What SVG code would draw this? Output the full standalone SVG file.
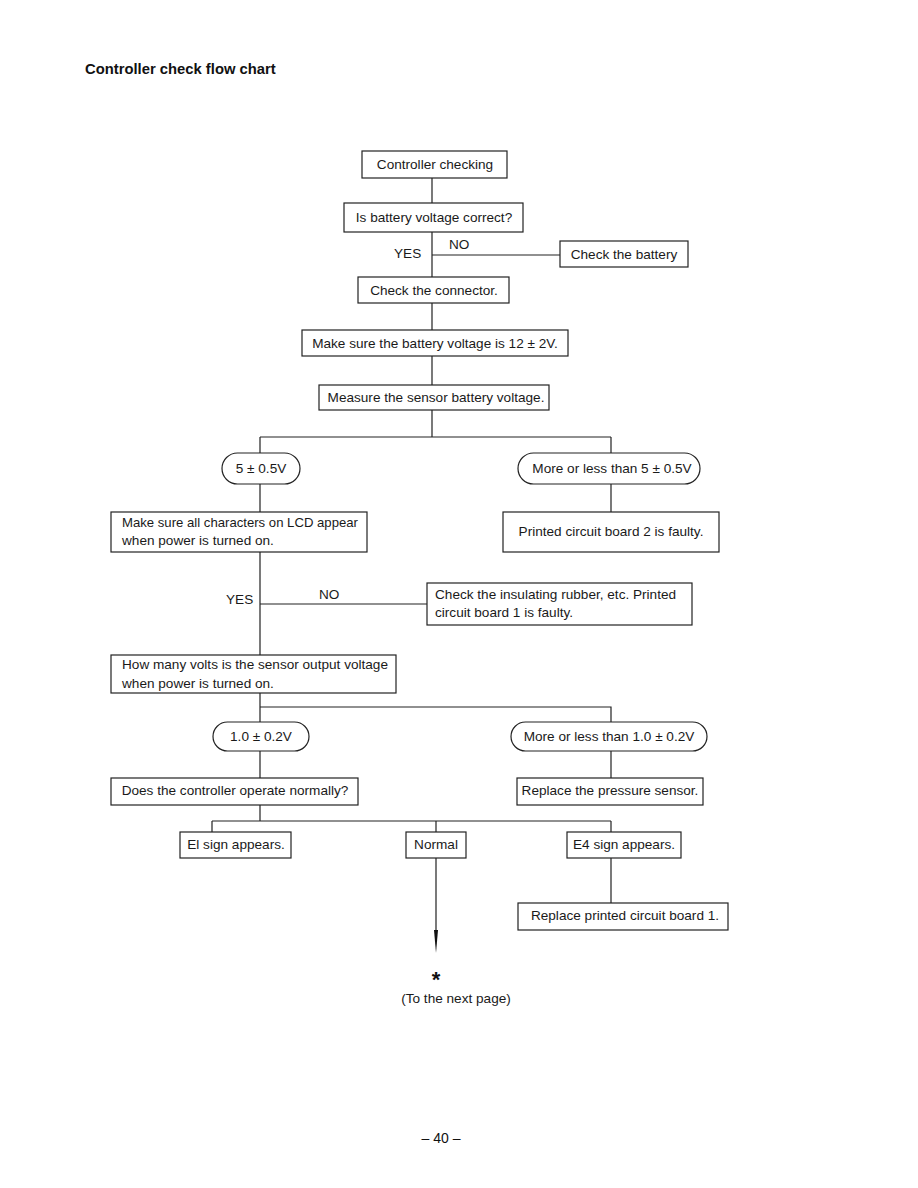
<svg xmlns="http://www.w3.org/2000/svg" width="918" height="1188" viewBox="0 0 918 1188">
<style>
.b{fill:#fff;stroke:#222;stroke-width:1.2}
.t{font-family:"Liberation Sans",Arial,sans-serif;font-size:13.6px;fill:#1a1a1a}
.m{text-anchor:middle}
.c{stroke:#222;stroke-width:1.2;fill:none}
</style>
<rect width="918" height="1188" fill="#fff"/>
<text x="85" y="74" font-family="Liberation Sans,Arial,sans-serif" font-size="14.8" font-weight="bold" fill="#111">Controller check flow chart</text>
<g id="connectors">
<path class="c" d="M432 178V203M432 232V277M432 255H560M432 303V330M432 356V385M432 410V437M260 437H611M260 437V453M611 437V453M260 484V512M611 484V512M260 552V655M260 604H427M260 693V722M260 707H611V722M260 751V778M611 751V778M260 805V821M212 821H611M212 821V832M436 821V832M611 821V832M611 858V903M436 858V932"/>
<polygon points="434,930 438,930 436,953" fill="#111"/>
</g>
<g id="n1"><rect class="b" x="362" y="151" width="145" height="27"/><text class="t m" x="435" y="169">Controller checking</text></g>
<g id="n2"><rect class="b" x="344" y="203" width="179" height="29"/><text class="t m" x="434" y="222">Is battery voltage correct?</text></g>
<g id="lbl1"><text class="t" x="394" y="258">YES</text><text class="t" x="449" y="249">NO</text></g>
<g id="n3"><rect class="b" x="560" y="241" width="128" height="26"/><text class="t m" x="624" y="259">Check the battery</text></g>
<g id="n4"><rect class="b" x="358" y="277" width="151" height="26"/><text class="t m" x="434" y="295">Check the connector.</text></g>
<g id="n5"><rect class="b" x="302" y="330" width="266" height="26"/><text class="t m" x="435" y="348">Make sure the battery voltage is 12 ± 2V.</text></g>
<g id="n6"><rect class="b" x="319" y="385" width="230" height="25"/><text class="t m" x="436" y="402">Measure the sensor battery voltage.</text></g>
<g id="n7"><rect class="b" x="222" y="453" width="78" height="31" rx="15.5"/><text class="t m" x="261" y="473">5 ± 0.5V</text></g>
<g id="n8"><rect class="b" x="518" y="453" width="182" height="31" rx="15.5"/><text class="t m" x="612" y="473">More or less than 5 ± 0.5V</text></g>
<g id="n9"><rect class="b" x="111" y="512" width="256" height="40"/><text class="t" x="122" y="527" textLength="236" lengthAdjust="spacingAndGlyphs">Make sure all characters on LCD appear</text><text class="t" x="122" y="545">when power is turned on.</text></g>
<g id="n10"><rect class="b" x="503" y="512" width="216" height="40"/><text class="t m" x="611" y="536">Printed circuit board 2 is faulty.</text></g>
<g id="lbl2"><text class="t" x="226" y="604">YES</text><text class="t" x="319" y="599">NO</text></g>
<g id="n11"><rect class="b" x="427" y="583" width="265" height="42"/><text class="t" x="435" y="599">Check the insulating rubber, etc. Printed</text><text class="t" x="435" y="617">circuit board 1 is faulty.</text></g>
<g id="n12"><rect class="b" x="111" y="655" width="285" height="38"/><text class="t" x="122" y="669">How many volts is the sensor output voltage</text><text class="t" x="122" y="688">when power is turned on.</text></g>
<g id="n13"><rect class="b" x="213" y="722" width="96" height="29" rx="14.5"/><text class="t m" x="261" y="741">1.0 ± 0.2V</text></g>
<g id="n14"><rect class="b" x="511" y="722" width="196" height="29" rx="14.5"/><text class="t m" x="609" y="741">More or less than 1.0 ± 0.2V</text></g>
<g id="n15"><rect class="b" x="111" y="778" width="247" height="27"/><text class="t m" x="235" y="795">Does the controller operate normally?</text></g>
<g id="n16"><rect class="b" x="517" y="778" width="186" height="27"/><text class="t m" x="610" y="795">Replace the pressure sensor.</text></g>
<g id="n17"><rect class="b" x="180" y="832" width="111" height="26"/><text class="t m" x="236" y="849">El sign appears.</text></g>
<g id="n18"><rect class="b" x="406" y="832" width="60" height="26"/><text class="t m" x="436" y="849">Normal</text></g>
<g id="n19"><rect class="b" x="567" y="832" width="114" height="26"/><text class="t m" x="624" y="849">E4 sign appears.</text></g>
<g id="n20"><rect class="b" x="518" y="903" width="210" height="27"/><text class="t m" x="625" y="920">Replace printed circuit board 1.</text></g>
<g id="foot"><text x="436" y="987" font-family="Liberation Sans,Arial,sans-serif" font-size="22" font-weight="bold" text-anchor="middle" fill="#111">*</text><text class="t m" x="456" y="1003">(To the next page)</text><text x="441" y="1143" font-family="Liberation Sans,Arial,sans-serif" font-size="14" text-anchor="middle" fill="#111">– 40 –</text></g>
</svg>
